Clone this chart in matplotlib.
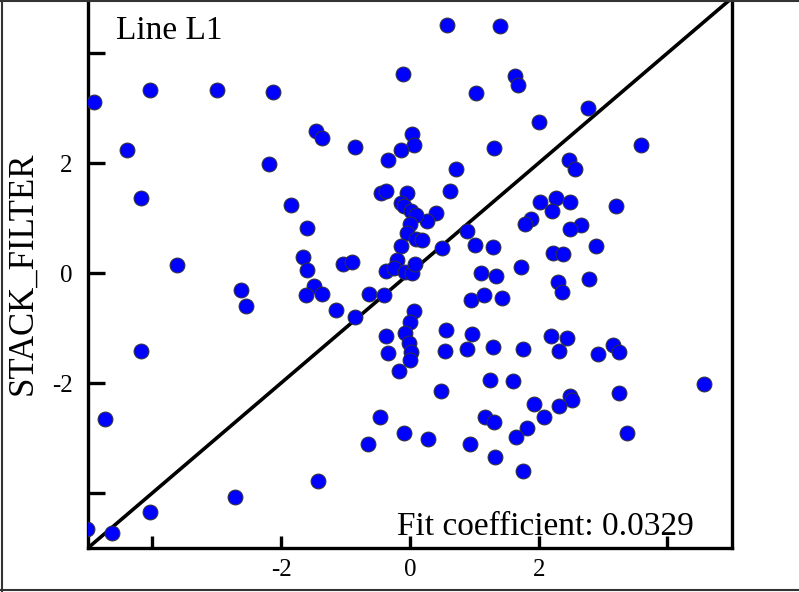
import matplotlib
matplotlib.use("Agg")
import matplotlib.pyplot as plt
from matplotlib.lines import Line2D

plt.rcParams['font.family'] = ['Liberation Serif', 'DejaVu Serif']

# scatter values
x_vals = [0.58, 1.40, -4.90, -4.03, -2.99, -2.12, -0.11, 1.03, 1.63, 1.68,
          2.77, 2.01, 3.59, 0.03, 0.06, -0.14, 1.31, 0.72, 0.62, 2.47,
          2.57, -0.05, 2.02, 2.27, 2.49, 2.21, 3.20, 0.40, 0.26, 1.88,
          1.79, 2.66, 2.49, 0.89, 1.01, 1.29, 0.50, 2.89, 2.22, 2.38,
          1.73, 1.10, -4.39, -4.17, -2.18, -1.46, -1.37, -0.86, -0.34, -0.45,
          -0.37, -0.14, -0.09, 0.02, 0.09, 0.00, -0.05, 0.09, 0.19, -0.14,
          -0.20, -0.37, -0.25, -0.08, 0.03, 0.08, -1.84, -1.59, -3.61, -1.66,
          -1.59, -1.04, -0.90,
          1.34, 2.30, 2.36, 2.78, -1.49, -2.63, -1.62, -1.37, -0.64, -0.40,
          0.95, 1.15, 1.43, 0.06, 0.00, -0.08, -0.02, 0.02, 0.00, -0.17,
          -0.37, -0.34, 0.56, 0.96, 0.54, 0.89, 1.29, 1.76, 2.19, 2.44,
          2.32, 2.92, 3.16, 3.25, 0.48, 1.24, 1.60, 4.56, 3.25, 2.49,
          2.51, 1.93, 2.32, 2.08, 1.17, 1.31, 1.82, 1.65, 3.37, -0.09,
          0.28, 0.93, 1.32, 1.76, -2.55, -1.15, -0.86, -4.17, -4.73, -0.47,
          -0.65, -1.43, -2.71, -4.03, -4.63, -5.01]
y_vals = [4.51, 4.49, 3.11, 3.33, 3.33, 3.29, 3.62, 3.28, 3.58, 3.42,
          3.00, 2.75, 2.33, 2.53, 2.32, 2.24, 2.28, 1.90, 1.50, 2.06,
          1.90, 1.45, 1.30, 1.36, 1.29, 1.12, 1.21, 1.09, 0.94, 0.98,
          0.90, 0.87, 0.80, 0.76, 0.51, 0.47, 0.45, 0.49, 0.36, 0.34,
          0.11, 0.00, 2.23, 1.36, 1.99, 2.59, 2.46, 2.30, 2.06, 1.45,
          1.50, 1.27, 1.21, 1.12, 1.05, 0.89, 0.72, 0.62, 0.60, 0.49,
          0.24, 0.04, 0.09, 0.02, 0.00, 0.16, 1.23, 0.81, 0.14, 0.29,
          0.05, 0.16, 0.20,
          -0.05, -0.16, -0.34, -0.11, -0.24, -0.31, -0.40, -0.38, -0.38, -0.40,
          -0.49, -0.40, -0.45, -0.69, -0.89, -1.09, -1.27, -1.43, -1.59, -1.79,
          -1.14, -1.45, -1.03, -1.10, -1.41, -1.38, -1.34, -1.38, -1.14, -1.19,
          -1.41, -1.48, -1.30, -1.43, -2.15, -1.95, -1.97, -2.01, -2.19, -2.24,
          -2.30, -2.39, -2.41, -2.62, -2.61, -2.70, -2.81, -2.99, -2.90, -2.91,
          -3.02, -3.10, -3.35, -3.60, -0.60, -0.67, -0.80, -1.41, -2.66, -2.61,
          -3.11, -3.78, -4.07, -4.34, -4.72, -4.65]

ticks = [-4, -2, 0, 2, 4]
tick_labels = ['', '-2', '0', '2', '']
lims = [-5, 5]
fit_coef = 0.0329

fig = plt.figure(figsize=(7.99, 5.92), dpi=100)
fig.patch.set_facecolor('white')
ax = fig.add_axes([0.110, 0.0743, 0.806, 0.929])

ax.plot(lims, lims, color='black', lw=2.6, zorder=2)
ax.scatter(x_vals, y_vals, s=115, color='#0000ff', edgecolors='#333333',
           linewidths=0.7, zorder=3)

ax.set_xlim(lims)
ax.set_ylim(lims)
ax.set_xticks(ticks)
ax.set_xticklabels(tick_labels, fontsize=18)
ax.set_yticks(ticks)
ax.set_yticklabels(tick_labels, fontsize=18)
ax.tick_params(axis='both', direction='in', width=2.4)
ax.tick_params(axis='y', length=12, pad=11)
ax.tick_params(axis='x', length=9, pad=8)

for side in ['left', 'bottom', 'right']:
    ax.spines[side].set_linewidth(2.4)
ax.spines['top'].set_visible(False)

ax.set_ylabel('STACK_FILTER', fontsize=25)
ax.yaxis.set_label_coords(-0.075, 0.5)

ax.text(0.0435, 0.925, 'Line L1', transform=ax.transAxes, fontsize=24,
        ha='left', va='baseline')
ax.text(0.941, 0.0236, 'Fit coefficient: %.4f' % fit_coef, transform=ax.transAxes,
        fontsize=24, ha='right', va='baseline')

# thin frame round the picture (top, left, bottom)
frame = dict(color='#333333', lw=1.5, transform=fig.transFigure)
fig.add_artist(Line2D([0, 1], [0.999, 0.999], **frame))
fig.add_artist(Line2D([0.002, 0.002], [0, 1], **frame))
fig.add_artist(Line2D([0, 1], [0.003, 0.003], **frame))

fig.savefig('out.png', dpi=100)
